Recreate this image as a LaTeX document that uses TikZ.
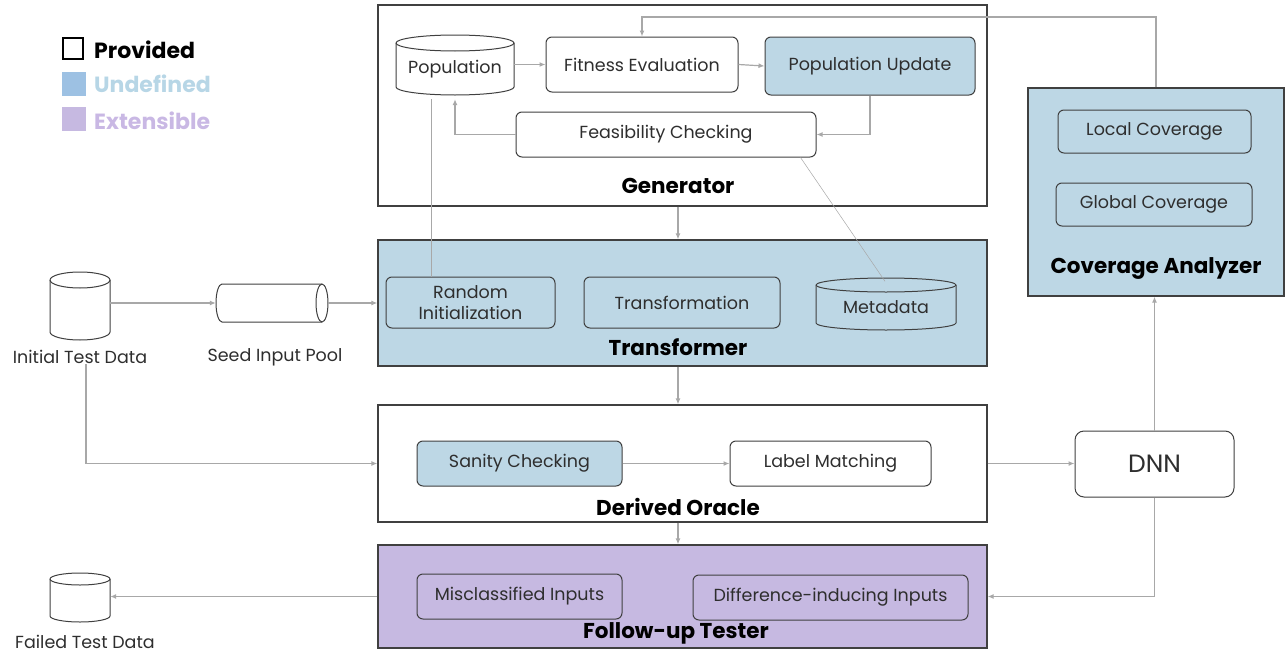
\documentclass[tikz,border=0pt]{standalone}
\usepackage{fontspec}
\setmainfont{Poppins}
\usetikzlibrary{arrows.meta,calc}

\definecolor{txt}{HTML}{2E2E2E}
\definecolor{edge}{HTML}{404040}
\definecolor{link}{HTML}{A8A8A8}
\definecolor{undef}{HTML}{BDD7E5}
\definecolor{undefkey}{HTML}{9DC1E3}
\definecolor{undeftxt}{HTML}{B7D6E6}
\definecolor{ext}{HTML}{C6B9E1}
\definecolor{exttxt}{HTML}{C9B8E4}

\newcommand\boxfont{\fontsize{17.5}{22}\selectfont}
\newcommand\titlefont{\fontsize{21.5}{24}\selectfont\bfseries}
\newcommand\keyfont{\fontsize{22}{24}\selectfont\bfseries}

% name, style, left, top, right, bottom, text  (pixel-like units, y downwards)
\newcommand\mkbox[7]{%
  \node[#2, minimum width={(#5-#3)*1pt}, minimum height={(#6-#4)*1pt}]
    (#1) at ({(#3+#5)/2},{-(#4+#6)/2}) {#7};}

% upright drum: name, left, top, right, bottom, cap half-height, fill, text
\newcommand\vdrum[8]{%
  \draw[drum, fill=#7] (#2,{-#3-#6}) -- (#2,{-#5+#6})
    arc[start angle=180, end angle=360, x radius={(#4-#2)/2*1pt}, y radius=#6pt]
    -- (#4,{-#3-#6})
    arc[start angle=0, end angle=180, x radius={(#4-#2)/2*1pt}, y radius=#6pt] -- cycle;
  \draw[drum] (#2,{-#3-#6})
    arc[start angle=180, end angle=360, x radius={(#4-#2)/2*1pt}, y radius=#6pt];
  \node[inner sep=0, font=\boxfont, text=txt, minimum width={(#4-#2)*1pt},
        minimum height={(#5-#3)*1pt}] (#1) at ({(#2+#4)/2},{-(#3+#5)/2-#6/2}) {#8};}

\tikzset{
  x=1pt, y=1pt,
  box/.style={draw=edge, line width=1pt, rounded corners=6pt, fill=white,
              text=txt, font=\boxfont, inner sep=2pt, align=center},
  ubox/.style={box, fill=undef},
  frame/.style={draw=edge, line width=1.2pt, inner sep=0pt},
  title/.style={text=black, font=\titlefont, inner sep=0pt},
  lbl/.style={text=txt, font=\boxfont, inner sep=0pt},
  drum/.style={draw=edge, line width=1pt},
  arr/.style={draw=link, line width=1.2pt, -{Latex[length=6pt,width=5pt]}},
  wire/.style={draw=link, line width=0.5pt},
}

\begin{document}
\begin{tikzpicture}
\useasboundingbox (0,0) rectangle (1286,-653);

% legend
\mkbox{kprov}{draw=black, line width=2pt, inner sep=0pt}{63}{38}{83}{59}{}
\node[anchor=west, font=\keyfont, text=black, inner sep=0pt]
  (lprov) at (94,-50) {Provided};
\mkbox{kundef}{fill=undefkey, inner sep=0pt}{62}{72}{86}{96}{}
\node[anchor=west, font=\keyfont, text=undeftxt, inner sep=0pt]
  (lundef) at (94,-84) {Undefined};
\mkbox{kext}{fill=ext, inner sep=0pt}{62}{107}{86}{131}{}
\node[anchor=west, font=\keyfont, text=exttxt, inner sep=0pt]
  (lext) at (94,-121) {Extensible};

% containers
\mkbox{gen}{frame, fill=white}{378}{5}{987}{206}{}
\mkbox{trans}{frame, fill=undef}{378}{240}{987}{366}{}
\mkbox{oracle}{frame, fill=white}{378}{405}{987}{522}{}
\mkbox{fut}{frame, fill=ext}{378}{545}{987}{648}{}
\mkbox{cov}{frame, fill=undef}{1028}{88}{1284}{296}{}

\node[title] (tgen) at (678,-186) {Generator};
\node[title] (ttrans) at (678,-347) {Transformer};
\node[title] (toracle) at (678,-507) {Derived Oracle};
\node[title] (tfut) at (676,-633) {Follow-up Tester};
\node[title] (tcov) at (1156,-268) {Coverage Analyzer};

% generator
\vdrum{pop}{396}{35}{514}{95}{8}{white}{Population}
\mkbox{fit}{box}{546}{37}{738}{92}{Fitness Evaluation}
\mkbox{upd}{ubox}{765}{37}{975}{95}{Population Update}
\mkbox{feas}{box}{516}{112}{816}{157}{Feasibility Checking}

% transformer
\mkbox{rinit}{ubox}{386}{277}{555}{328}{Random\\[-1pt]Initialization}
\mkbox{tform}{ubox}{584}{277}{780}{328}{Transformation}
\vdrum{meta}{816}{278}{956}{330}{7}{undef}{Metadata}

% oracle
\mkbox{sanity}{ubox}{417}{441}{622}{486}{Sanity Checking}
\mkbox{match}{box}{730}{441}{931}{486}{Label Matching}

% follow-up tester
\mkbox{miscl}{box, fill=ext}{417}{574}{622}{619}{Misclassified Inputs}
\mkbox{diff}{box, fill=ext}{693}{575}{968}{620}{Difference-inducing Inputs}

% coverage analyzer
\mkbox{local}{ubox}{1058}{110}{1251}{153}{Local Coverage}
\mkbox{global}{ubox}{1056}{183}{1252}{226}{Global Coverage}

% model under test
\mkbox{dnn}{box, rounded corners=9pt, font=\fontsize{25}{27}\selectfont}{1075}{431}{1234}{497}{DNN}

% data stores
\vdrum{init}{50}{272}{110}{340}{8}{white}{}
\node[lbl] (linit) at (80,-357) {Initial Test Data};
\vdrum{failed}{50}{573}{110}{622}{6}{white}{}
\node[lbl] (lfailed) at (85,-642) {Failed Test Data};

% seed pool (lying drum)
\draw[drum, fill=white] (222,-284) -- (322,-284)
  arc[start angle=90, end angle=-90, x radius=6pt, y radius=19pt]
  -- (222,-322) arc[start angle=270, end angle=90, x radius=6pt, y radius=19pt] -- cycle;
\draw[drum] (322,-284) arc[start angle=90, end angle=270, x radius=6pt, y radius=19pt];
\node[inner sep=0, minimum width=112pt, minimum height=38pt] (seed) at (272,-303) {};
\node[lbl] (lseed) at (275,-357) {Seed Input Pool};

% generator loop
\draw[arr] (pop.east |- fit.west) -- (fit.west);
\draw[arr] (fit.east) -- (upd.west);
\draw[arr] (upd.south) |- (feas.east);
\draw[arr] (feas.west) -| (pop.south);

% feedback from coverage to fitness
\coordinate (fb) at (1156,-17);
\draw[arr] (cov.north) -- (fb) -| (fit.north);

% faint links
\draw[wire] ([xshift=-24pt]pop.south) -- ([xshift=-24pt]pop.south |- rinit.north);
\draw[wire] ([xshift=-16pt]feas.south east) -- ([xshift=-1pt]meta.north);

% main flow
\draw[arr] (gen.south -| tgen) -- (trans.north -| tgen);
\draw[arr] (init.east |- seed) -- (seed.west);
\draw[arr] (seed.east) -- (seed.east -| trans.west);
\draw[arr] ([xshift=6pt]linit.south) |- (oracle.west);
\draw[arr] (trans.south -| ttrans) -- (oracle.north -| ttrans);
\draw[arr] (sanity.east) -- (match.west);
\draw[arr] (oracle.east) -- (oracle.east -| dnn.west);
\draw[arr] (dnn.north) -- (dnn.north |- cov.south);
\draw[arr] (dnn.south) |- (fut.east);
\draw[arr] (oracle.south -| toracle) -- (fut.north -| toracle);
\draw[arr] (fut.west) -- (fut.west -| failed.east);
\end{tikzpicture}
\end{document}
